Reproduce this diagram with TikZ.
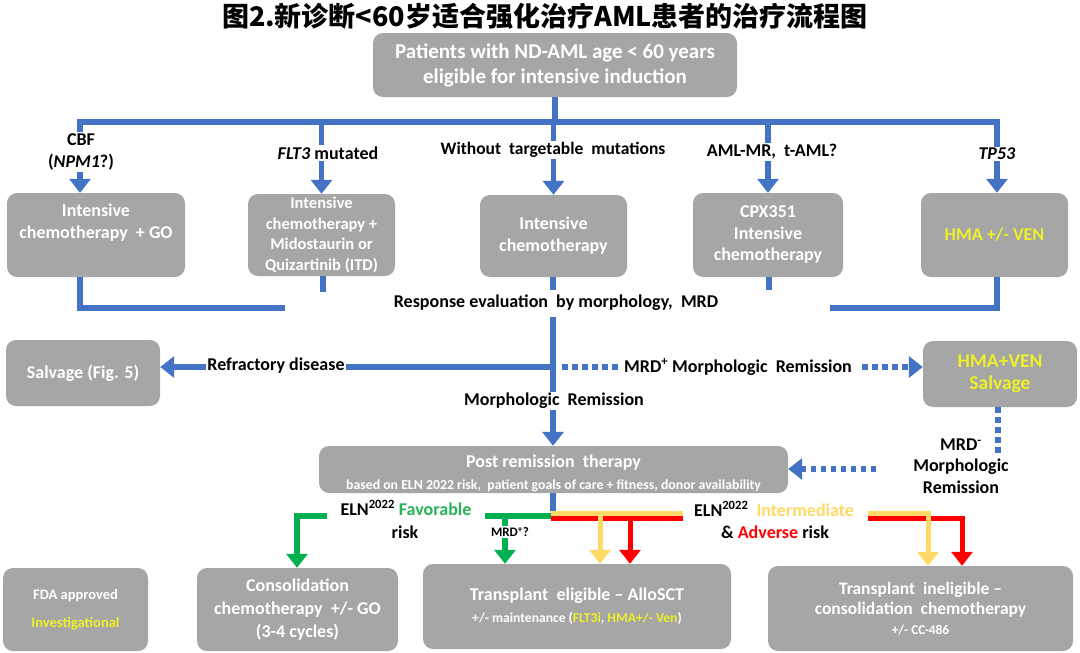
\documentclass[tikz,border=0pt]{standalone}
\usepackage{fontspec}
\setmainfont{Carlito}
\newfontfamily\cjkfont{Noto Sans CJK SC}
\usetikzlibrary{arrows.meta}
\definecolor{boxgray}{RGB}{166,166,166}
\definecolor{lnblue}{RGB}{68,114,196}
\definecolor{lngreen}{RGB}{0,176,80}
\definecolor{lnyellow}{RGB}{255,217,102}
\definecolor{lnred}{RGB}{255,0,0}
\definecolor{txyellow}{RGB}{238,240,40}
\definecolor{txgreen}{RGB}{40,180,90}
\tikzset{
  gbox/.style={fill=boxgray, rounded corners=10pt, text=white, align=center, inner sep=0pt,
    font=\bfseries\fontsize{18}{22}\selectfont},
  lbl/.style={fill=white, inner sep=1.5pt, align=center, text=black,
    font=\bfseries\fontsize{18}{21.5}\selectfont},
  bline/.style={draw=lnblue, line width=5.5pt},
  gline/.style={draw=lngreen, line width=5.5pt},
  yline/.style={draw=lnyellow, line width=5pt},
  rline/.style={draw=lnred, line width=5pt},
  tip/.style={-{Triangle[width=21pt,length=14pt]}},
  dotln/.style={dash pattern=on 5.5pt off 4.5pt},
}
\begin{document}
\begin{tikzpicture}[x=1pt,y=-1pt]
\useasboundingbox[fill=white] (0,0) rectangle (1080,653);
% title
\node[font=\cjkfont\bfseries\fontsize{27}{30}\selectfont, inner sep=0pt] (title) at (545,16) {图2.新诊断<60岁适合强化治疗AML患者的治疗流程图};
% boxes
\node[gbox, minimum width=364pt, minimum height=64pt, font=\bfseries\fontsize{21}{25}\selectfont] (top) at (555,65) {Patients with ND-AML age < 60 years\\eligible for intensive induction};
\node[gbox, minimum width=178pt, minimum height=84pt, text depth=27pt] (b1) at (96,235) {Intensive\\chemotherapy \ + GO};
\node[gbox, minimum width=147pt, minimum height=82pt, font=\bfseries\fontsize{16.5}{20.5}\selectfont] (b2) at (321.5,235) {Intensive\\chemotherapy +\\Midostaurin or\\Quizartinib (ITD)};
\node[gbox, minimum width=147pt, minimum height=82pt] (b3) at (553.5,236) {Intensive\\chemotherapy};
\node[gbox, minimum width=150pt, minimum height=84pt, font=\bfseries\fontsize{18}{21.5}\selectfont] (b4) at (768,235) {CPX351\\Intensive\\chemotherapy};
\node[gbox, minimum width=147pt, minimum height=84pt, text=txyellow] (b5) at (994.5,235) {HMA +/- VEN};
\node[gbox, minimum width=154pt, minimum height=66pt] (salvage) at (83,373) {Salvage (Fig. 5)};
\node[gbox, minimum width=154pt, minimum height=66pt, text=txyellow, font=\bfseries\fontsize{19.5}{22}\selectfont] (hv) at (1000,374) {HMA+VEN\\Salvage};
\node[gbox, minimum width=469pt, minimum height=47pt, text height=42pt] (post) at (553.5,469.5) {{\fontsize{18}{20}\selectfont Post remission \ therapy}\\{\fontsize{13.8}{16.5}\selectfont based on ELN 2022 risk, \ patient goals of care + fitness, donor availability}};
\node[gbox, minimum width=145pt, minimum height=83pt, font=\bfseries\fontsize{14.5}{28}\selectfont] (legend) at (75.5,609.5) {FDA approved\\\textcolor{txyellow}{Investigational}};
\node[gbox, minimum width=201pt, minimum height=83pt, font=\bfseries\fontsize{18}{23}\selectfont] (cons) at (297.5,609.5) {Consolidation\\chemotherapy \ +/- GO\\(3-4 cycles)};
\node[gbox, minimum width=308pt, minimum height=85pt] (te) at (577,606.5) {{\fontsize{18}{19}\selectfont Transplant \ eligible – AlloSCT}\\{\fontsize{13.6}{15}\selectfont +/- maintenance (\textcolor{txyellow}{FLT3i}, \textcolor{txyellow}{HMA+/- Ven})}};
\node[gbox, minimum width=305pt, minimum height=85pt, font=\bfseries\fontsize{17.5}{20}\selectfont] (ti) at (920.5,608.5) {Transplant \ ineligible –\\consolidation \ chemotherapy\\{\fontsize{13.4}{18}\selectfont +/- CC-486}};
% top distribution
\coordinate (split) at (555,122);
\coordinate (hl) at (80,122);
\coordinate (hr) at (997,122);
\draw[bline] (top.south) -- (split);
\draw[bline] ([xshift=-2.75pt]hl) -- ([xshift=2.75pt]hr);
\draw[bline,tip] (hl) -- (hl |- b1.north);
\draw[bline,tip] (b2.north |- hl) -- (b2.north);
\draw[bline,tip] (b3.north |- hl) -- (b3.north);
\draw[bline,tip] (b4.north |- hl) -- (b4.north);
\draw[bline,tip] (hr) -- (hr |- b5.north);
\node[lbl] (lcbf) at (81,152) {CBF\\(\textit{NPM1}?)};
\node[lbl] (lflt) at (328,153) {\textit{FLT3} mutated};
\node[lbl, font=\bfseries\fontsize{17.5}{21}\selectfont] (lwo) at (553,150) {Without \ targetable \ mutations};
\node[lbl] (lmr) at (772,152) {AML-MR, \ t-AML?};
\node[lbl] (ltp) at (997,154) {\textit{TP53}};
% collecting lines
\coordinate (bl) at (80,308);
\coordinate (blend) at (285,308);
\draw[bline] (b1.south -| bl) -- (bl) -- (blend);
\coordinate (br) at (997,308);
\coordinate (brend) at (830,308);
\draw[bline] (b5.south -| br) -- (br) -- (brend);
\coordinate (s2) at (323,292);
\draw[bline] (b2.south -| s2) -- (s2);
\coordinate (s3) at (553,290);
\draw[bline] (b3.south -| s3) -- (s3);
\coordinate (s4) at (769,290);
\draw[bline] (b4.south -| s4) -- (s4);
\node[lbl] (resp) at (556,303) {Response evaluation \ by morphology, \ MRD};
% center
\coordinate (c1) at (553,317);
\coordinate (cr) at (553,367);
\draw[bline,tip] (c1) -- (c1 |- post.north);
\draw[bline,tip] ([xshift=2.75pt]cr) -- (cr -| salvage.east);
\node[lbl] (lref) at (276,366) {Refractory disease};
\draw[bline,dotln,tip] ([xshift=9pt]cr) -- (cr -| hv.west);
\node[lbl, inner xsep=6pt] (lmrdp) at (738,367) {MRD\textsuperscript{+} Morphologic \ Remission};
\node[lbl] (lmorph) at (554,401) {Morphologic \ Remission};
% MRD- path
\coordinate (dv) at (998,455);
\draw[bline,dotln] (hv.south -| dv) -- (dv);
\node[lbl, fill=none] (lmrdm) at (961,466) {MRD\textsuperscript{-}\\Morphologic\\Remission};
\coordinate (dl) at (876,469);
\draw[bline,dotln,tip] (dl) -- (dl -| post.east);
% risk branches
\coordinate (jn) at (553,516);
\draw[bline] (post.south -| jn) -- (553,511);
\coordinate (gR) at (485,516);
\draw[gline] ([xshift=2.5pt]jn) -- (gR);
\coordinate (gL1) at (327,516);
\coordinate (gL2) at (297,516);
\draw[gline,tip] (gL1) -- (gL2) -- (gL2 |- cons.north);
\coordinate (gm) at (505,516);
\draw[gline,tip] (gm) -- (gm |- te.north);
\node[lbl, font=\bfseries\fontsize{13}{15}\selectfont] (lmrdq) at (510,532) {MRD\textsuperscript{+}?};
\coordinate (rl0) at (551,518);
\coordinate (rl1) at (683,518);
\coordinate (yl0) at (551,513);
\coordinate (yl1) at (683,513);
\draw[rline] (rl0) -- (rl1);
\draw[yline] (yl0) -- (yl1);
\coordinate (ra) at (630,518);
\draw[rline,tip] (ra) -- (ra |- te.north);
\coordinate (ya) at (600,513);
\draw[yline,tip] (ya) -- (ya |- te.north);
\coordinate (rr0) at (868,518);
\coordinate (rr1) at (962,518);
\draw[rline,tip] (rr0) -- (rr1) -- (rr1 |- ti.north);
\coordinate (yr0) at (868,513);
\coordinate (yr1) at (928,513);
\draw[yline,tip] (yr0) -- (yr1) -- (yr1 |- ti.north);
\node[lbl, fill=none, inner sep=0pt] (lfav) at (406,508) {ELN\textsuperscript{2022} \textcolor{txgreen}{Favorable}};
\node[lbl, fill=none, inner sep=0pt] (lfavr) at (405,532) {risk};
\node[lbl, fill=none, inner sep=0pt] (lint) at (774,509) {ELN\textsuperscript{2022} \ \textcolor{lnyellow}{Intermediate}};
\node[lbl, fill=none, inner sep=0pt] (ladv) at (775,532) {\& \textcolor{lnred}{Adverse} risk};
\end{tikzpicture}
\end{document}
